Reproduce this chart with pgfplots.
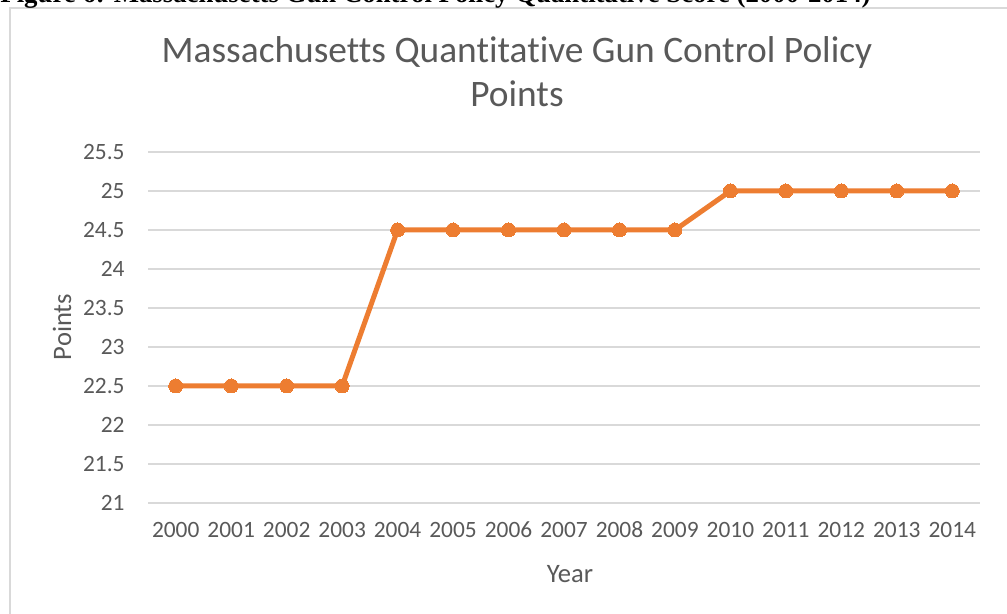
\documentclass[border=0pt]{standalone}
\usepackage{pgfplots}
\pgfplotsset{compat=1.18}
\usepackage{fontspec}
\setmainfont{Carlito}[Ligatures=NoCommon]
\newfontfamily\capfont{Liberation Serif}
\definecolor{txt}{HTML}{595959}
\definecolor{gridc}{HTML}{D9D9D9}
\definecolor{orng}{HTML}{ED7D31}
\begin{document}
\begin{tikzpicture}
\begin{scope}[x=0.5pt,y=-0.5pt]
\useasboundingbox (0,0) rectangle (1007,614);
\draw[gridc, line width=1pt] (10,1000) -- (10,8) -- (1100,8);
\node[anchor=base west, inner sep=0pt, font={\capfont\bfseries\fontsize{13.4}{15}\selectfont}] at (0,3) {Figure 6: Massachusetts Gun Control Policy Quantitative Score (2000-2014)};
\node[anchor=base, inner sep=0pt, text=txt, font={\fontsize{18.7}{22}\selectfont}] at (517,63) {Massachusetts Quantitative Gun Control Policy};
\node[anchor=base, inner sep=0pt, text=txt, font={\fontsize{18.7}{22}\selectfont}] at (517,107) {Points};
\node[anchor=base, inner sep=0pt, text=txt, font={\fontsize{13.3}{16}\selectfont}] at (570,582) {Year};
\node[anchor=center, inner sep=0pt, text=txt, rotate=90, font={\fontsize{13.3}{16}\selectfont}] at (62,327) {Points};
\end{scope}
\begin{axis}[
  at={(74pt,-251.5pt)}, anchor=south west,
  scale only axis, width=416pt, height=175.5pt,
  xmin=-0.5, xmax=14.5, ymin=21, ymax=25.5,
  xtick={0,...,14},
  xticklabels={2000,2001,2002,2003,2004,2005,2006,2007,2008,2009,2010,2011,2012,2013,2014},
  ytick={21,21.5,22,22.5,23,23.5,24,24.5,25,25.5},
  yticklabels={21,21.5,22,22.5,23,23.5,24,24.5,25,25.5},
  ymajorgrids, grid style={gridc, line width=0.65pt},
  axis line style={draw=none},
  major tick length=0pt,
  tick label style={text=txt, font={\fontsize{11.7}{13}\selectfont}},
  yticklabel style={anchor=east, inner sep=0pt, xshift=-11.5pt},
  xticklabel style={anchor=base, inner sep=0pt, yshift=-17pt},
  clip=false,
]
\addplot[orng, line width=2.5pt, mark=*, mark size=3.5pt, mark options={fill=orng, draw=orng, line width=0pt}]
 coordinates {(0,22.5)(1,22.5)(2,22.5)(3,22.5)(4,24.5)(5,24.5)(6,24.5)(7,24.5)(8,24.5)(9,24.5)(10,25)(11,25)(12,25)(13,25)(14,25)};
\end{axis}
\end{tikzpicture}
\end{document}
